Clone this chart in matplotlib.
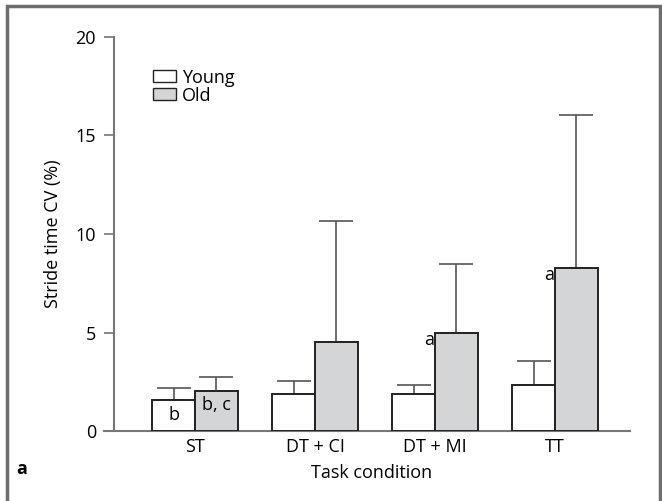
import numpy as np
import matplotlib.pyplot as plt
from matplotlib.patches import Patch

plt.rcParams['font.family'] = ['Open Sans', 'DejaVu Sans']

conditions = ['ST', 'DT + CI', 'DT + MI', 'TT']
young_mean = [1.56, 1.86, 1.86, 2.33]
young_sd = [0.64, 0.68, 0.48, 1.24]
old_mean = [2.01, 4.5, 4.97, 8.26]
old_sd = [0.75, 6.15, 3.49, 7.79]

fs = 13

fig = plt.figure(figsize=(6.62, 5.01), dpi=100)
ax = fig.add_axes([114 / 662, 70 / 501, 516 / 662, 394 / 501])

# frame round the figure
fig.add_artist(plt.Rectangle((7 / 662, -0.05), 653 / 662, 1.05 - 6 / 501,
                             transform=fig.transFigure, fill=False,
                             edgecolor='#6e6e6e', linewidth=2.5))

x = np.arange(len(conditions))
w = 0.358
ax.bar(x - w / 2, young_mean, w, color='white', edgecolor='#222222',
       linewidth=1.4, zorder=3)
ax.bar(x + w / 2, old_mean, w, color='#d4d5d7', edgecolor='#222222',
       linewidth=1.4, zorder=3)
ax.errorbar(x - w / 2, young_mean, yerr=[np.zeros(4), young_sd], fmt='none',
            ecolor='#555555', elinewidth=1.2, capsize=12, capthick=1.2, zorder=2)
ax.errorbar(x + w / 2, old_mean, yerr=[np.zeros(4), old_sd], fmt='none',
            ecolor='#555555', elinewidth=1.2, capsize=12, capthick=1.2, zorder=2)

# significance letters
ax.text(x[0] - w / 2, 0.8, 'b', ha='center', va='center', fontsize=fs, zorder=4)
ax.text(x[0] + w / 2, 1.3, 'b, c', ha='center', va='center', fontsize=fs, zorder=4)
for i in [2, 3]:
    ax.text(x[i] - 0.01, old_mean[i] - 0.35, 'a', ha='right', va='center', fontsize=fs)

ax.set_xlim(-0.675, 3.625)
ax.set_ylim(0, 20)
ax.set_yticks([0, 5, 10, 15, 20])
ax.set_xticks(x)
ax.set_xticklabels(conditions)
ax.tick_params(axis='x', length=0, pad=5, labelsize=fs)
ax.tick_params(axis='y', length=7, width=1.2, color='#777777', pad=6, labelsize=fs)
for s in ['top', 'right']:
    ax.spines[s].set_visible(False)
for s in ['left', 'bottom']:
    ax.spines[s].set_color('#777777')
    ax.spines[s].set_linewidth(1.5)
ax.spines['bottom'].set_bounds(-0.755, 3.625)
ax.set_ylabel('Stride time CV (%)', fontsize=fs)
ax.yaxis.set_label_coords(-0.101, 0.5)
ax.set_xlabel('Task condition', fontsize=fs)
ax.xaxis.set_label_coords(0.5, -0.085)

handles = [Patch(facecolor='white', edgecolor='#222222', linewidth=1),
           Patch(facecolor='#d4d5d7', edgecolor='#222222', linewidth=1)]
ax.legend(handles, ['Young', 'Old'], frameon=False, loc='upper left',
          bbox_to_anchor=(0.0756, 0.92), fontsize=fs, handlelength=1.25,
          handleheight=0.65, labelspacing=0.0, handletextpad=0.35,
          borderaxespad=0, borderpad=0)

fig.text(16 / 662, 1 - 469 / 501, 'a', fontsize=fs, fontweight='bold',
         ha='left', va='center')

fig.savefig('out.png', dpi=100)
